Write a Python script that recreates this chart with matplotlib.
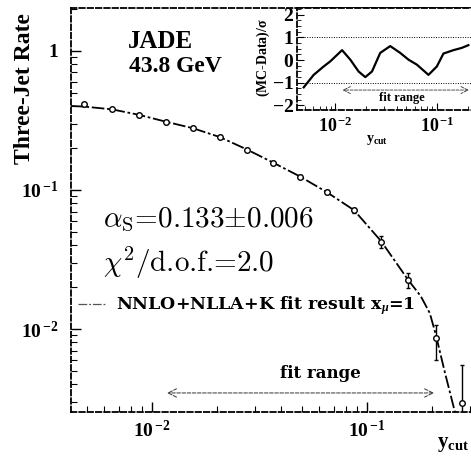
import numpy as np
import matplotlib
matplotlib.use('Agg')
import matplotlib.pyplot as plt
from matplotlib.ticker import FuncFormatter, MultipleLocator, FixedLocator, NullFormatter

plt.rcParams['font.family'] = ['Liberation Serif', 'DejaVu Serif']
plt.rcParams['font.weight'] = 'bold'
plt.rcParams['mathtext.fontset'] = 'custom'
plt.rcParams['mathtext.rm'] = 'Liberation Serif:bold'
plt.rcParams['mathtext.bf'] = 'Liberation Serif:bold'
plt.rcParams['mathtext.it'] = 'Liberation Serif:italic'
plt.rcParams['mathtext.sf'] = 'Liberation Serif'
plt.rcParams['axes.unicode_minus'] = False

# ---- data ----
ycut = [0.00484, 0.00652, 0.00871, 0.01167, 0.01552, 0.0207, 0.02754, 0.0364,
        0.0488, 0.0650, 0.0871, 0.1161, 0.1556, 0.2094, 0.2754]
rate = [0.414, 0.383, 0.345, 0.307, 0.281, 0.242, 0.195, 0.157,
        0.125, 0.0973, 0.0718, 0.0425, 0.0225, 0.00857, 0.00295]
err_lo = [0.010, 0.009, 0.008, 0.008, 0.007, 0.006, 0.005, 0.004,
          0.004, 0.003, 0.003, 0.0045, 0.0027, 0.0026, 0.0028]
err_hi = [0.010, 0.009, 0.008, 0.008, 0.007, 0.006, 0.005, 0.004,
          0.004, 0.003, 0.003, 0.0045, 0.0027, 0.0021, 0.00256]

fit_ycut = [0.0042, 0.00484, 0.00652, 0.00871, 0.01167, 0.01552, 0.0207, 0.02754,
            0.0364, 0.0488, 0.0650, 0.0871, 0.1161, 0.1556, 0.178, 0.196, 0.2094,
            0.2307, 0.2565]
fit_rate = [0.402, 0.398, 0.380, 0.347, 0.309, 0.278, 0.240, 0.196,
            0.158, 0.125, 0.0965, 0.0715, 0.0430, 0.0225, 0.0172, 0.0130, 0.0090,
            0.00482, 0.00253]

dev_logy = [-2.311, -2.213, -2.115, -2.049, -1.934, -1.853, -1.772, -1.706, -1.640, -1.559,
            -1.461, -1.363, -1.281, -1.199, -1.085, -1.003, -0.938, -0.840, -0.758, -0.693]
dev_sigma = [-1.20, -0.65, -0.28, -0.05, 0.44, 0.02, -0.50, -0.75, -0.50, 0.32,
             0.62, 0.32, 0.02, -0.20, -0.65, -0.28, 0.29, 0.44, 0.54, 0.66]

fit_range = [0.01175, 0.205]

W, H = 471, 458
fig = plt.figure(figsize=(W / 100, H / 100), dpi=100)


def fx(x):
    return x / W


def fy(y):
    return 1 - y / H


dash = (0, (3, 1.6))

# ---- main axes ----
ax = fig.add_axes([fx(71), fy(412), fx(485) - fx(71), fy(8) - fy(412)])
ax.set_xscale('log')
ax.set_yscale('log')
ax.set_xlim(10 ** -2.377, 10 ** -0.451)
ax.set_ylim(10 ** -2.597, 10 ** 0.309)
for s in ['left', 'bottom', 'top']:
    ax.spines[s].set_linestyle(dash)
    ax.spines[s].set_linewidth(1.3)
ax.spines['right'].set_visible(False)


def logfmt(v, pos):
    e = int(round(np.log10(v)))
    if e == 0:
        return r'$\mathbf{1}$'
    return r'$\mathbf{10}^{\,\mathbf{%d}}$' % e


ax.xaxis.set_major_formatter(FuncFormatter(logfmt))
ax.yaxis.set_major_formatter(FuncFormatter(logfmt))
ax.xaxis.set_minor_formatter(NullFormatter())
ax.yaxis.set_minor_formatter(NullFormatter())
ax.tick_params(which='both', direction='in', top=False, right=False)
ax.tick_params(which='major', length=7, width=1)
ax.tick_params(which='minor', length=4, width=0.8)
ax.tick_params(axis='y', pad=9, labelsize=14)
ax.tick_params(axis='x', pad=6, labelsize=14)

ax.plot(fit_ycut, fit_rate, color='black', lw=1.3, ls=(0, (7, 1.5, 1.5, 1.5)),
        label=r'NNLO+NLLA+K fit result x$_{\mu}$=1')
ax.errorbar(ycut, rate, yerr=[err_lo, err_hi], fmt='o', ms=4, mfc='white',
            mec='black', mew=1, ecolor='black', elinewidth=1, capsize=1.5, zorder=3)

ax.annotate('', xy=(fit_range[0], 10 ** -2.46), xytext=(fit_range[1], 10 ** -2.46),
            arrowprops=dict(arrowstyle='<->,head_length=0.6,head_width=0.3',
                            lw=0.7, ls='--', color='#333333', shrinkA=0, shrinkB=0))
ax.text(10 ** -1.219, 10 ** -2.35, 'fit range', ha='center', va='baseline',
        fontsize=12, fontweight='bold', family='DejaVu Serif')

leg = ax.legend(loc='center left', bbox_to_anchor=(fx(78), fy(306)),
                bbox_transform=fig.transFigure, frameon=False, borderpad=0,
                borderaxespad=0, handlelength=1.6, handletextpad=0.6,
                prop={'family': 'DejaVu Serif', 'weight': 'bold', 'size': 12.5})
leg.get_lines()[0].set_color('#555555')
leg.get_lines()[0].set_linewidth(0.9)

fig.text(fx(25), fy(89), 'Three-Jet Rate', rotation=90, ha='center', va='center',
         fontsize=17, fontweight='bold')
fig.text(fx(128), fy(48), 'JADE', ha='left', va='baseline', fontsize=18,
         fontweight='bold')
fig.text(fx(129), fy(72), '43.8 GeV', ha='left', va='baseline', fontsize=17,
         fontweight='bold')
fig.text(fx(103), fy(227), r'$\alpha_{\mathrm{S}}$=0.133$\pm$0.006', ha='left',
         va='baseline', fontsize=21, family='cmr10', fontweight='normal',
         math_fontfamily='cm')
fig.text(fx(103), fy(272), r'$\chi^2$/d.o.f.=2.0', ha='left',
         va='baseline', fontsize=21, family='cmr10', fontweight='normal',
         math_fontfamily='cm')
fig.text(fx(437), fy(447), r'$\mathbf{y}_{\mathrm{cut}}$', ha='left', va='baseline',
         fontsize=15)

# ---- inset ----
ins = fig.add_axes([fx(297), fy(110), fx(493) - fx(297), fy(8) - fy(110)])
ins.set_xscale('log')
ins.set_xlim(10 ** -2.377, 10 ** -0.451)
ins.set_ylim(-2.2, 2.3)
for s in ['left', 'bottom', 'top']:
    ins.spines[s].set_linestyle(dash)
    ins.spines[s].set_linewidth(1.3)
ins.spines['right'].set_visible(False)
ins.yaxis.set_major_locator(FixedLocator([-2, -1, 0, 1, 2]))
ins.yaxis.set_minor_locator(MultipleLocator(0.25))
ins.yaxis.set_major_formatter(FuncFormatter(lambda v, p: r'$\mathbf{%d}$' % int(round(v))))
ins.xaxis.set_major_formatter(FuncFormatter(logfmt))
ins.xaxis.set_minor_formatter(NullFormatter())
ins.tick_params(which='both', direction='in', top=False, right=False)
ins.tick_params(which='major', length=5, width=0.8)
ins.tick_params(which='minor', length=3, width=0.6)
ins.tick_params(axis='y', pad=2, labelsize=14)
ins.tick_params(axis='x', pad=5, labelsize=13)
ins.axhline(1, color='black', lw=0.7, ls=(0, (1, 1.5)))
ins.axhline(-1, color='black', lw=0.7, ls=(0, (1, 1.5)))
ins.plot([10 ** v for v in dev_logy], dev_sigma, color='black', lw=1.6)
ins.annotate('', xy=(fit_range[0], -1.32), xytext=(fit_range[1], -1.32),
             arrowprops=dict(arrowstyle='<->,head_length=0.5,head_width=0.25',
                             lw=0.6, ls='--', color='#333333', shrinkA=0, shrinkB=0))
ins.text(10 ** -1.345, -1.67, 'fit range', ha='center', va='center', fontsize=9,
         fontweight='bold')
fig.text(fx(263), fy(58), r'(MC-Data)/$\mathbf{\sigma}$', rotation=90, ha='center',
         va='center', fontsize=10, fontweight='bold')
fig.text(fx(366), fy(142), r'y$_{\mathrm{cut}}$', ha='left', va='baseline', fontsize=10)

fig.savefig('out.png', dpi=100)
